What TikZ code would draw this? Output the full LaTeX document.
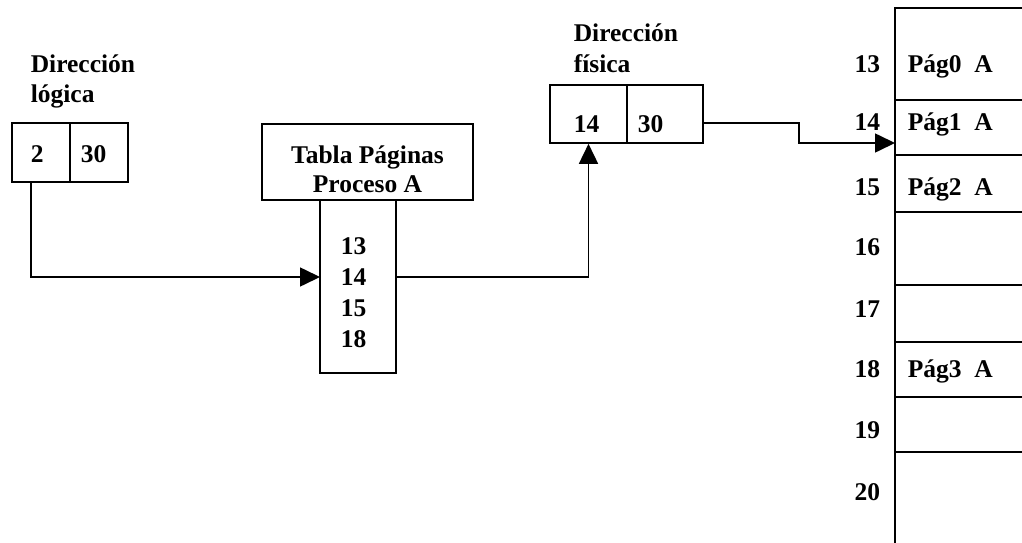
\documentclass[tikz,border=0pt]{standalone}
\usepackage{fontspec}
\setmainfont{Liberation Serif}
\usetikzlibrary{arrows.meta}
\begin{document}
\begin{tikzpicture}[x=1pt,y=-1pt,
  line width=1.6pt,
  txt/.style={font=\fontsize{25.5}{30}\selectfont\bfseries, inner sep=0pt, anchor=base west},
  ctxt/.style={txt, anchor=base},
  rtxt/.style={txt, anchor=base east},
  cell/.style={draw, inner sep=0pt, line width=1.6pt},
  arr/.style={-{Triangle[length=20pt,width=19pt]}}]
\useasboundingbox (0,0) rectangle (1022,543);

% logical address
\node[txt] (ltitle1) at (30,72) {Dirección};
\node[txt] (ltitle2) at (30,102) {lógica};
\node[cell, minimum width=58pt, minimum height=59pt] (la) at (41,152.5) {};
\node[cell, minimum width=58pt, minimum height=59pt] (lb) at (99,152.5) {};
\node[txt] (lpage) at (30,162) {2};
\node[txt] (loff) at (80,162) {30};

% page table of process A
\node[cell, minimum width=211pt, minimum height=76pt] (thead) at (367.5,162) {};
\node[ctxt] (th1) at (367.5,163) {Tabla Páginas};
\node[ctxt] (th2) at (367.5,192) {Proceso A};
\node[cell, minimum width=76pt, minimum height=173pt] (tcol) at (358,286.5) {};
\node[txt] (t0) at (340,254) {13};
\node[txt] (t1) at (340,285) {14};
\node[txt] (t2) at (340,316) {15};
\node[txt] (t3) at (340,347) {18};

% physical address
\node[txt] (ptitle1) at (573,42) {Dirección};
\node[txt] (ptitle2) at (573,72) {física};
\node[cell, minimum width=77pt, minimum height=58pt] (pa) at (588.5,114) {};
\node[cell, minimum width=76pt, minimum height=58pt] (pb) at (665,114) {};
\node[txt] (pframe) at (573,132) {14};
\node[txt] (poff) at (637,132) {30};

% main memory frames
\draw (895,543) -- (895,8) -- (1022,8);
\foreach \yy in {100,155,212,285,342,397,452}
  \draw (895,\yy) -- (1022,\yy);
\foreach \n/\yy in {13/72,14/130,15/195,16/255,17/317,18/377,19/438,20/500}
  \node[rtxt] (f\n) at (881,\yy) {\n};
\node[txt] (m0) at (907,72) {Pág0~~A};
\node[txt] (m1) at (907,130) {Pág1~~A};
\node[txt] (m2) at (907,195) {Pág2~~A};
\node[txt] (m3) at (907,377) {Pág3~~A};

% connectors
\coordinate (lout) at (31,182);
\coordinate (tin) at (320,277);
\coordinate (tout) at (396,277);
\coordinate (pout) at (703,123);
\coordinate (bend) at (799,123);
\coordinate (min) at (895,143);
\draw[arr] (lout) |- (tin);
\draw[arr] (tout) -| (pa.south);
\draw[arr] (pout) -- (bend) |- (min);
\end{tikzpicture}
\end{document}
